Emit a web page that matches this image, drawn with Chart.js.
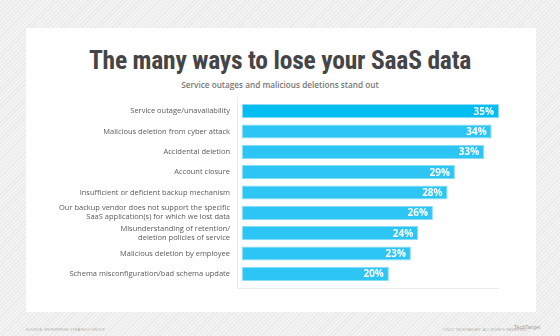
<!DOCTYPE html>
<html>
<head>
<meta charset="utf-8">
<script src="https://cdn.jsdelivr.net/npm/chart.js@4"></script>
<style>
  html, body { margin: 0; padding: 0; }
  body {
    width: 560px; height: 336px; position: relative; overflow: hidden;
    background: repeating-linear-gradient(135deg, #f3f3f3 0px, #f3f3f3 2px, #e9e9e9 2px, #e9e9e9 3px);
    font-family: "Liberation Sans", sans-serif;
  }
  .card { position: absolute; left: 26px; top: 28px; width: 510px; height: 284px; background: #fff; }
  .title { position: absolute; left: 0; top: 45px; width: 560px; text-align: center;
    font-family: "Liberation Sans Narrow", "Roboto Condensed", sans-serif; font-weight: bold; font-size: 25.5px; color: #454547; letter-spacing: -0.2px; }
  .sub { position: absolute; left: 0; top: 79px; width: 560px; text-align: center;
    font-family: "Open Sans", sans-serif; font-size: 8.2px; color: #777; font-weight: 600; }
  #wrap { position: absolute; left: 26px; top: 90px; width: 510px; height: 210px; }
  .foot { position: absolute; top: 328px; font-size: 3.5px; color: #aaa; letter-spacing: 0.2px; }
</style>
</head>
<body>
<div class="card"></div>
<div class="title">The many ways to lose your SaaS data</div>
<div class="sub">Service outages and malicious deletions stand out</div>
<div id="wrap"><canvas id="chart"></canvas></div>
<div class="foot" style="left:26px">SOURCE: ENTERPRISE STRATEGY GROUP</div>
<div class="foot" style="left:443px">©2022 TECHTARGET. ALL RIGHTS RESERVED</div>
<div class="foot" style="left:514px;top:324px;font-size:5px;color:#999">TechTarget</div>
<script>
const categories = [
  'Service outage/unavailability',
  'Malicious deletion from cyber attack',
  'Accidental deletion',
  'Account closure',
  'Insufficient or deficient backup mechanism',
  ['Our backup vendor does not support the specific', 'SaaS application(s) for which we lost data'],
  ['Misunderstanding of retention/', 'deletion policies of service'],
  'Malicious deletion by employee',
  'Schema misconfiguration/bad schema update'
];
const values = [35, 34, 33, 29, 28, 26, 24, 23, 20];
const barColors = ['#00bdf2', '#2dc5f4', '#2dc5f4', '#2dc5f4', '#2dc5f4', '#2dc5f4', '#2dc5f4', '#2dc5f4', '#2dc5f4'];

// light frame left/bottom of the plot
const framePlugin = {
  id: 'frame',
  beforeDatasetsDraw(chart) {
    const a = chart.chartArea, ctx = chart.ctx;
    ctx.save();
    ctx.strokeStyle = '#ececec';
    ctx.lineWidth = 1;
    ctx.beginPath();
    ctx.moveTo(a.left - 4.5, a.top - 4);
    ctx.lineTo(a.left - 4.5, a.bottom + 4.5);
    ctx.lineTo(a.right, a.bottom + 4.5);
    ctx.stroke();
    ctx.restore();
  }
};

// percent labels inside bar ends
const valuePlugin = {
  id: 'values',
  afterDatasetsDraw(chart) {
    const ctx = chart.ctx;
    const meta = chart.getDatasetMeta(0);
    ctx.save();
    ctx.fillStyle = '#fff';
    ctx.font = 'bold 10px "Open Sans", sans-serif';
    ctx.textAlign = 'right';
    ctx.textBaseline = 'middle';
    meta.data.forEach((bar, i) => {
      ctx.fillText(values[i] + '%', bar.x - 5, bar.y + 0.5);
    });
    ctx.restore();
  }
};

new Chart(document.getElementById('chart'), {
  type: 'bar',
  data: {
    labels: categories,
    datasets: [{
      data: values,
      backgroundColor: barColors,
      borderColor: '#8ddcf7',
      borderWidth: 1,
      borderSkipped: false,
      barPercentage: 0.7,
      categoryPercentage: 1
    }]
  },
  options: {
    indexAxis: 'y',
    responsive: true,
    maintainAspectRatio: false,
    animation: false,
    layout: { padding: { top: 11, bottom: 16, right: 37, left: 0 } },
    plugins: { legend: { display: false }, tooltip: { enabled: false } },
    scales: {
      x: { display: false, min: 0, max: 35 },
      y: {
        afterFit(scale) { scale.width = 216; },
        // tick marks are hidden but their length keeps the labels away from the bars
        grid: { display: false, drawTicks: true, tickLength: 12 },
        border: { display: false },
        ticks: {
          color: '#5a5a5a',
          padding: 0,
          font: { family: '"Open Sans", sans-serif', size: 7.5 },
          autoSkip: false
        }
      }
    }
  },
  plugins: [framePlugin, valuePlugin]
});
</script>
</body>
</html>
